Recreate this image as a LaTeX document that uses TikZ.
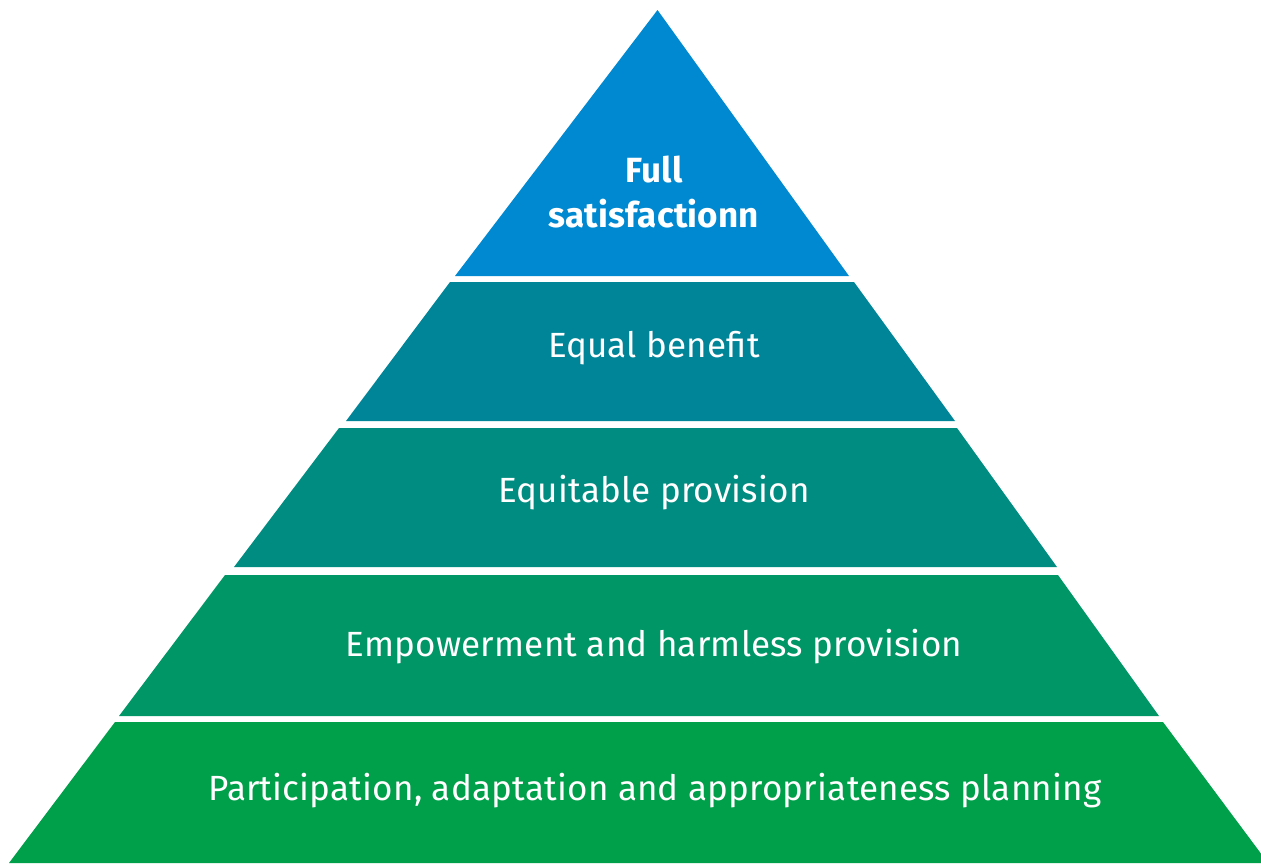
\documentclass[tikz,border=0pt]{standalone}
\usepackage{fontspec}
\setmainfont{Fira Sans}
\definecolor{cA}{RGB}{0,137,208}
\definecolor{cB}{RGB}{0,132,151}
\definecolor{cC}{RGB}{0,140,128}
\definecolor{cD}{RGB}{0,150,102}
\definecolor{cE}{RGB}{0,159,74}
\tikzset{
  layer/.style={fill=#1, draw=none},
  lbl/.style={text=white, font=\fontsize{35}{40}\selectfont\addfontfeature{LetterSpace=0.6}, inner sep=0pt, anchor=center},
  toplbl/.style={text=white, font=\fontsize{35}{45}\selectfont\bfseries\addfontfeature{LetterSpace=0.6}, inner sep=0pt, align=center, anchor=center}
}
\begin{document}
\begin{tikzpicture}[x=1pt,y=-1pt]
\useasboundingbox (0,0) rectangle (1261,863);
\begin{scope}
\clip (0,0) rectangle (1261,863);
\fill[layer=cA] (657.5,10) -- (849,276) -- (455,276) -- cycle;
\fill[layer=cB] (450,282) -- (854,282) -- (955,421) -- (346,421) -- cycle;
\fill[layer=cC] (339,428) -- (957,428) -- (1057,567) -- (234,567) -- cycle;
\fill[layer=cD] (225,575) -- (1058,575) -- (1159,716) -- (119,716) -- cycle;
\fill[layer=cE] (115,722) -- (1163,722) -- (1268,863) -- (9,863) -- cycle;
\end{scope}
\node[toplbl] (t1) at (654,192) {Full\\satisfactionn};
\node[lbl] (t2) at (654,348) {Equal benefit};
\node[lbl] (t3) at (654,493) {Equitable provision};
\node[lbl] (t4) at (654,647) {Empowerment and harmless provision};
\node[lbl] (t5) at (655,791) {Participation, adaptation and appropriateness planning};
\end{tikzpicture}
\end{document}
